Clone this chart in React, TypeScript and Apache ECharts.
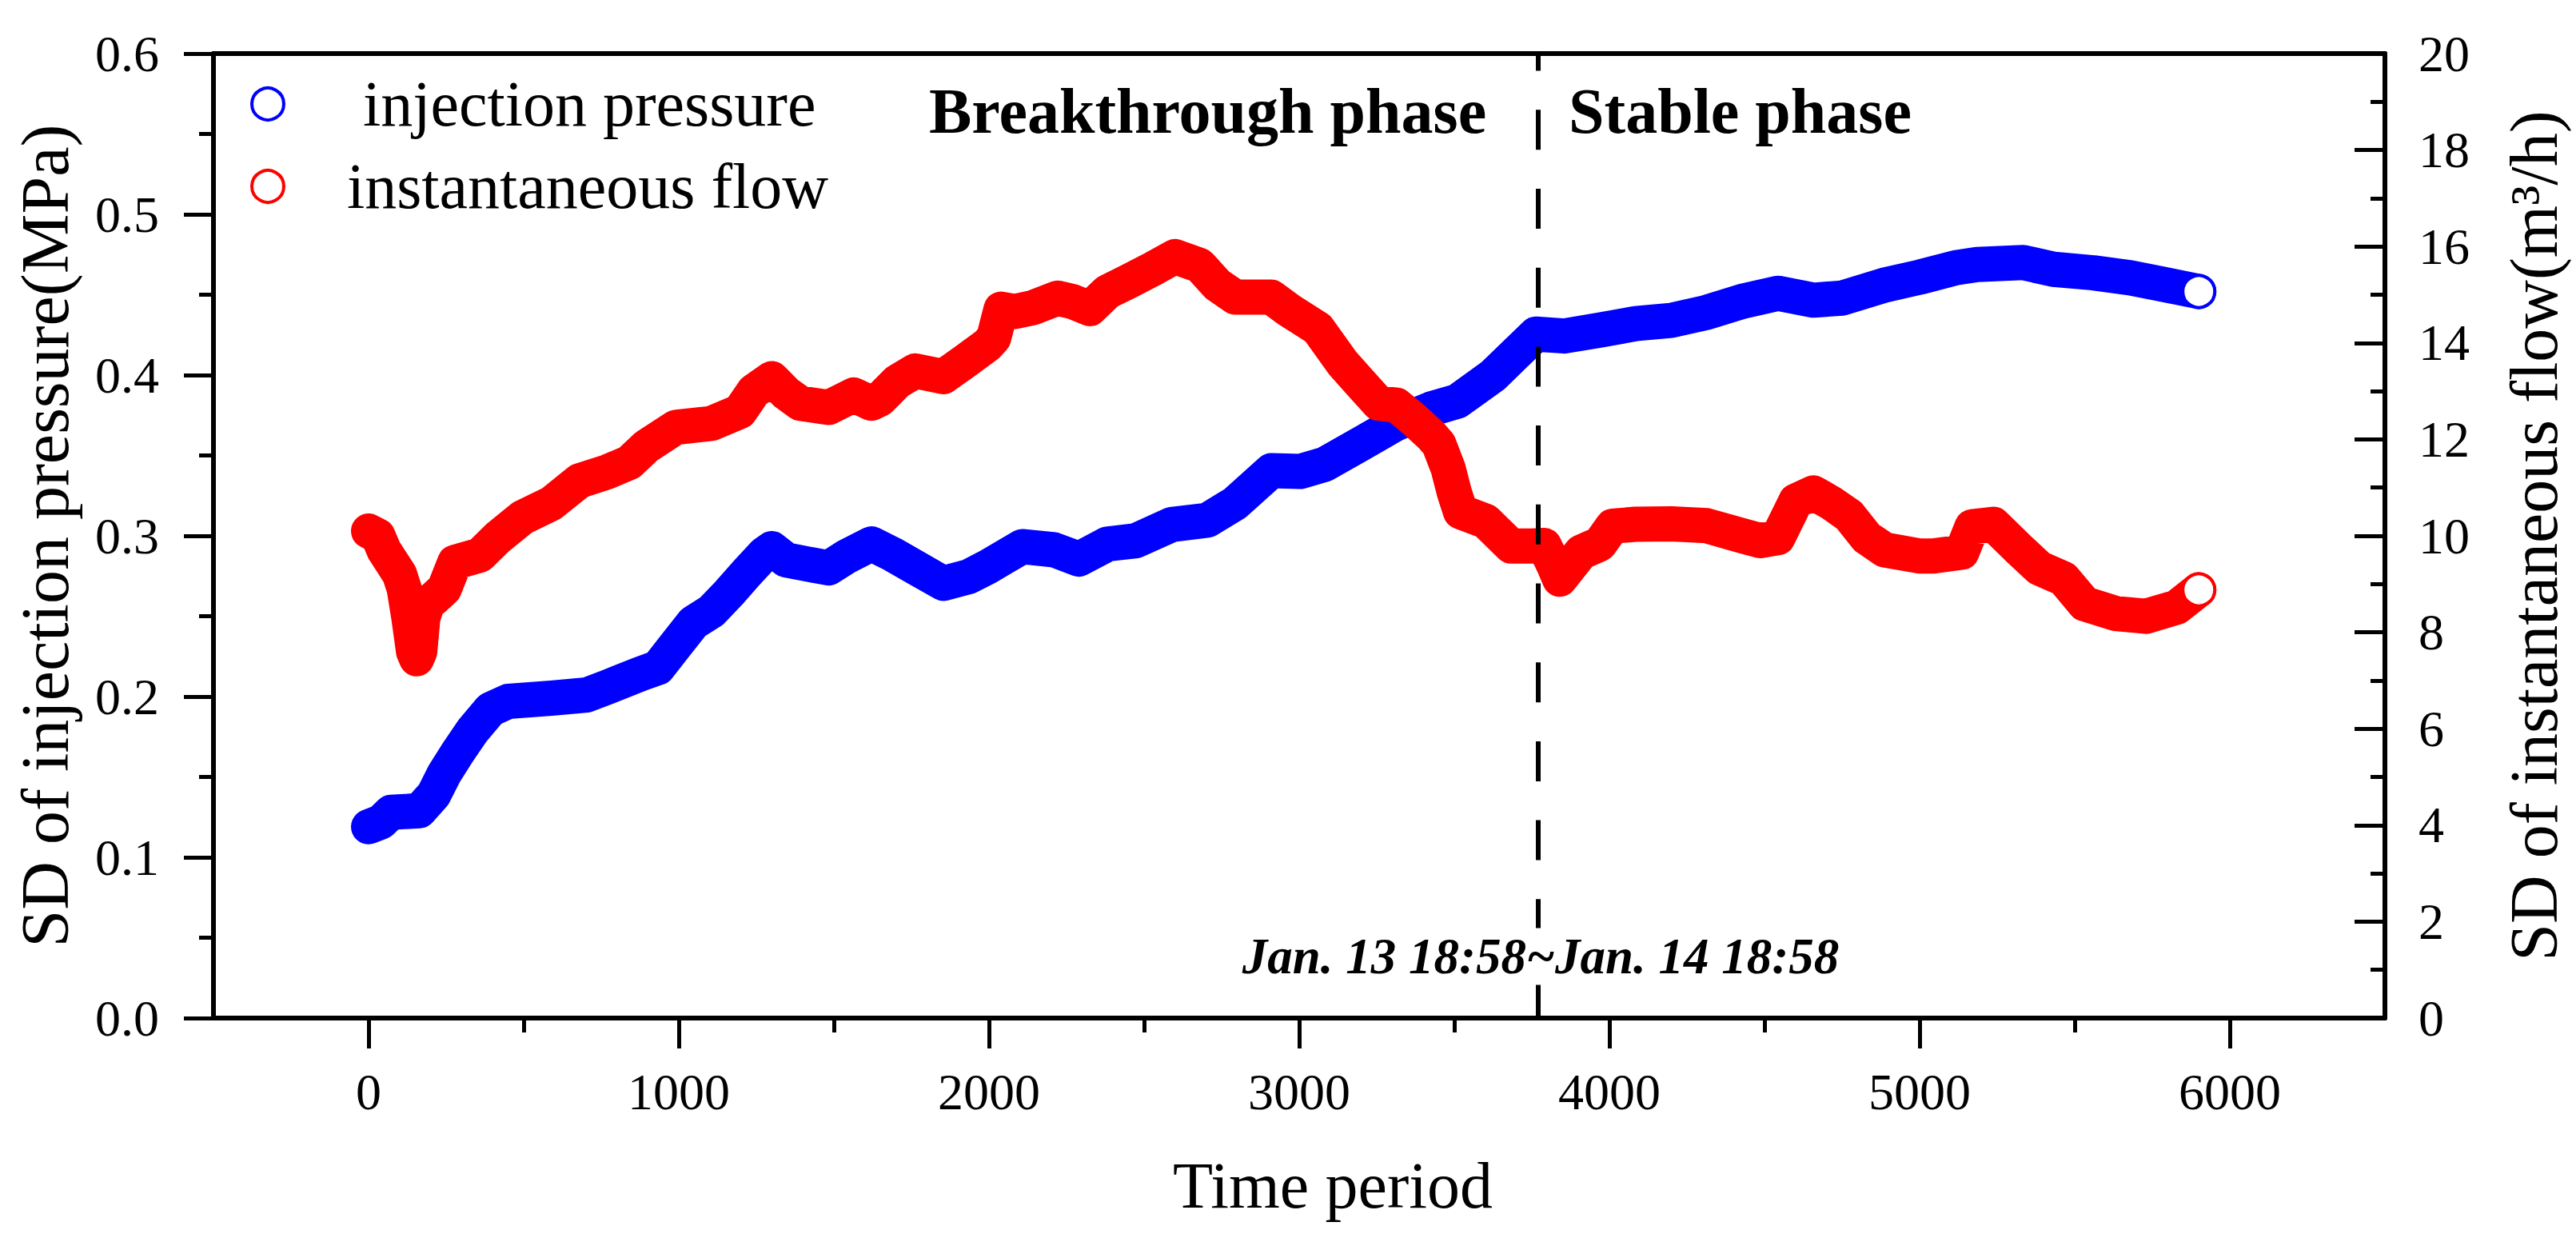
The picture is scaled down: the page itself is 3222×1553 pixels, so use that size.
import React, { useEffect, useRef } from "react";
import * as echarts from "echarts";

// ---------- data ----------
const pressureTime = [
  0, 40, 72, 164, 210, 244, 290, 336, 393, 450, 589, 703, 771, 875, 933, 990, 1047, 1105, 1162, 1219,
  1277, 1300, 1346, 1427, 1483, 1540, 1621, 1689, 1762, 1853, 1935, 1993, 2107, 2210, 2290, 2382, 2474,
  2589, 2704, 2794, 2910, 3003, 3082, 3197, 3314, 3427, 3510, 3625, 3695, 3763, 3855, 3969, 4085, 4199,
  4314, 4429, 4543, 4658, 4750, 4887, 5002, 5117, 5185, 5334, 5432, 5560, 5679, 5777, 5900,
];
const pressureValue = [
  0.119, 0.122, 0.128, 0.129, 0.139, 0.152, 0.166, 0.179, 0.192, 0.197, 0.199, 0.201, 0.206, 0.214, 0.218,
  0.232, 0.246, 0.253, 0.2645, 0.277, 0.289, 0.292, 0.285, 0.282, 0.28, 0.287, 0.295, 0.2885, 0.2804,
  0.2704, 0.2746, 0.2804, 0.2933, 0.2913, 0.2855, 0.2949, 0.297, 0.307, 0.3097, 0.3203, 0.3405, 0.34,
  0.3445, 0.357, 0.37, 0.379, 0.3837, 0.3997, 0.4128, 0.4255, 0.4243, 0.428, 0.432, 0.434, 0.439, 0.4459,
  0.4509, 0.4466, 0.4479, 0.456, 0.461, 0.4668, 0.4688, 0.47, 0.4658, 0.4636, 0.4605, 0.4568, 0.452,
];

const flowTime = [
  0, 30, 50, 80, 100, 115, 130, 145, 155, 165, 175, 190, 210, 244, 278, 359, 416, 496, 589, 680, 771, 841,
  897, 990, 1105, 1197, 1242, 1300, 1346, 1391, 1483, 1564, 1621, 1648, 1705, 1762, 1853, 1923, 1993, 2015,
  2039, 2083, 2141, 2221, 2268, 2325, 2382, 2448, 2529, 2599, 2679, 2737, 2794, 2910, 2967, 3060, 3139,
  3197, 3256, 3314, 3370, 3427, 3450, 3480, 3500, 3520, 3602, 3683, 3751, 3790, 3820, 3840, 3909, 3969,
  4010, 4085, 4199, 4314, 4429, 4486, 4543, 4601, 4658, 4715, 4773, 4830, 4887, 5002, 5041, 5136, 5169,
  5238, 5316, 5386, 5464, 5532, 5631, 5730, 5829, 5900,
];
const flowValue = [
  10.1, 10.0, 9.7, 9.4, 9.2, 8.9, 8.3, 7.6, 7.45, 7.6, 8.3, 8.6, 8.7, 8.9, 9.45, 9.6, 9.96, 10.38, 10.67,
  11.14, 11.33, 11.52, 11.86, 12.25, 12.33, 12.58, 13.0, 13.26, 12.96, 12.75, 12.66, 12.92, 12.75, 12.83,
  13.2, 13.42, 13.3, 13.62, 13.95, 14.1, 14.7, 14.65, 14.73, 14.93, 14.86, 14.71, 15.06, 15.27, 15.54,
  15.79, 15.61, 15.2, 14.95, 14.95, 14.68, 14.3, 13.59, 13.17, 12.75, 12.71, 12.41, 12.07, 11.9, 11.4,
  10.9, 10.5, 10.3, 9.79, 9.79, 9.8, 9.4, 9.1, 9.66, 9.83, 10.2, 10.24, 10.25, 10.21, 10.0, 9.9, 9.96,
  10.72, 10.89, 10.68, 10.42, 9.96, 9.71, 9.58, 9.58, 9.66, 10.19, 10.24, 9.75, 9.33, 9.11, 8.59, 8.39,
  8.33, 8.52, 8.88,
];

const xTickValues = [0, 1000, 2000, 3000, 4000, 5000, 6000];
const phaseBoundary = 3770;
const seriesNames = ["injection pressure", "instantaneous flow"];
const phaseLabels = ["Breakthrough phase", "Stable phase"];
const periodLabel = "Jan. 13 18:58~Jan. 14 18:58";

const FONT = "'Liberation Serif', 'Times New Roman', serif";
const BLUE = "#0000ff";
const RED = "#ff0000";

function buildData(times: number[], values: number[]) {
  const last = times.length - 1;
  return times.map((t, i) =>
    i === last ? { value: [t, values[i]] } : { value: [t, values[i]], symbol: "none" }
  );
}

export default function App() {
  const ref = useRef<HTMLDivElement>(null);

  useEffect(() => {
    if (!ref.current) return;
    const chart = echarts.init(ref.current, undefined, { renderer: "svg" });

    const axisLine = { show: true, onZero: false, lineStyle: { color: "#000", width: 6 } };
    const labelStyle = { fontFamily: FONT, fontSize: 64, color: "#000" };
    const tickLine = { color: "#000", width: 5 };

    const option: any = {
      animation: false,
      backgroundColor: "#fff",
      textStyle: { fontFamily: FONT, color: "#000" },
      grid: {
        left: 267,
        right: 239,
        top: 67,
        bottom: 280,
        containLabel: false,
        outerBoundsMode: "none",
      },
      legend: {
        orient: "vertical",
        left: 313,
        top: 90,
        padding: 0,
        itemWidth: 40,
        itemHeight: 40,
        itemGap: 23,
        selectedMode: false,
        textStyle: { fontFamily: FONT, fontSize: 80, color: "#000" },
        data: [
          {
            name: seriesNames[0],
            icon: "circle",
            itemStyle: { color: "#fff", borderColor: BLUE, borderWidth: 4 },
            textStyle: { padding: [0, 0, 0, 94] },
          },
          {
            name: seriesNames[1],
            icon: "circle",
            itemStyle: { color: "#fff", borderColor: RED, borderWidth: 4 },
            textStyle: { padding: [0, 0, 0, 74] },
          },
        ],
      },
      xAxis: [
        {
          type: "value",
          position: "bottom",
          min: -500,
          max: 6500,
          name: "Time period",
          nameLocation: "middle",
          nameGap: 168,
          nameTextStyle: { fontFamily: FONT, fontSize: 82, color: "#000", padding: [0, 0, 0, 84] },
          axisLine,
          axisTick: { show: true, inside: false, length: 38, lineStyle: tickLine, customValues: xTickValues },
          minorTick: { show: true, splitNumber: 2, length: 18, lineStyle: tickLine },
          axisLabel: {
            ...labelStyle,
            margin: 60,
            customValues: xTickValues,
            formatter: (v: number) => String(v),
          },
          splitLine: { show: false },
          minorSplitLine: { show: false },
        },
        {
          type: "value",
          position: "top",
          min: -500,
          max: 6500,
          axisLine,
          axisTick: { show: false },
          minorTick: { show: false },
          axisLabel: { show: false },
          splitLine: { show: false },
        },
      ],
      yAxis: [
        {
          type: "value",
          position: "left",
          min: 0,
          max: 0.6,
          interval: 0.1,
          name: "SD of injection pressure(MPa)",
          nameLocation: "middle",
          nameGap: 169,
          nameTextStyle: { fontFamily: FONT, fontSize: 84, color: "#000" },
          axisLine,
          axisTick: { show: true, inside: false, length: 37, lineStyle: tickLine },
          minorTick: { show: true, splitNumber: 2, length: 18, lineStyle: tickLine },
          axisLabel: { ...labelStyle, margin: 68, formatter: (v: number) => v.toFixed(1) },
          splitLine: { show: false },
        },
        {
          type: "value",
          position: "right",
          min: 0,
          max: 20,
          interval: 2,
          name: "SD of instantaneous flow(m³/h)",
          nameLocation: "middle",
          nameGap: 144,
          nameTextStyle: { fontFamily: FONT, fontSize: 84, color: "#000" },
          axisLine,
          axisTick: { show: true, inside: true, length: 38, lineStyle: tickLine },
          minorTick: { show: true, splitNumber: 2, length: 18, lineStyle: tickLine },
          axisLabel: { ...labelStyle, margin: 42, formatter: (v: number) => String(v) },
          splitLine: { show: false },
        },
      ],
      series: [
        {
          name: seriesNames[0],
          type: "line",
          xAxisIndex: 0,
          yAxisIndex: 0,
          data: buildData(pressureTime, pressureValue),
          symbol: "circle",
          symbolSize: 40,
          showSymbol: true,
          itemStyle: { color: "#fff", borderColor: BLUE, borderWidth: 4 },
          lineStyle: { color: BLUE, width: 44, cap: "round", join: "round" },
          silent: true,
          emphasis: { disabled: true },
          z: 2,
        },
        {
          name: seriesNames[1],
          type: "line",
          xAxisIndex: 0,
          yAxisIndex: 1,
          data: buildData(flowTime, flowValue),
          symbol: "circle",
          symbolSize: 40,
          showSymbol: true,
          itemStyle: { color: "#fff", borderColor: RED, borderWidth: 4 },
          lineStyle: { color: RED, width: 44, cap: "round", join: "round" },
          silent: true,
          emphasis: { disabled: true },
          z: 3,
          markLine: {
            silent: true,
            symbol: "none",
            label: { show: false },
            lineStyle: { color: "#000", width: 6, type: [50, 48.7] },
            emphasis: { disabled: true },
            data: [{ xAxis: phaseBoundary }],
          },
        },
      ],
      graphic: [
        {
          type: "text",
          x: 1162,
          y: 139,
          silent: true,
          style: {
            text: phaseLabels[0],
            fontFamily: FONT,
            fontSize: 80,
            fontWeight: "bold",
            fill: "#000",
            align: "left",
            verticalAlign: "middle",
          },
        },
        {
          type: "text",
          x: 1962,
          y: 139,
          silent: true,
          style: {
            text: phaseLabels[1],
            fontFamily: FONT,
            fontSize: 80,
            fontWeight: "bold",
            fill: "#000",
            align: "left",
            verticalAlign: "middle",
          },
        },
        {
          type: "text",
          x: 1927,
          y: 1196,
          z: 10,
          silent: true,
          style: {
            text: periodLabel,
            fontFamily: FONT,
            fontSize: 63,
            fontWeight: "bold",
            fontStyle: "italic",
            fill: "#000",
            align: "center",
            verticalAlign: "middle",
            backgroundColor: "#fff",
            padding: [4, 2],
          },
        },
      ],
    };

    chart.setOption(option);
    return () => chart.dispose();
  }, []);

  return (
    <div
      ref={ref}
      style={{ position: "fixed", left: 0, top: 0, width: "3222px", height: "1553px", background: "#fff" }}
    />
  );
}
